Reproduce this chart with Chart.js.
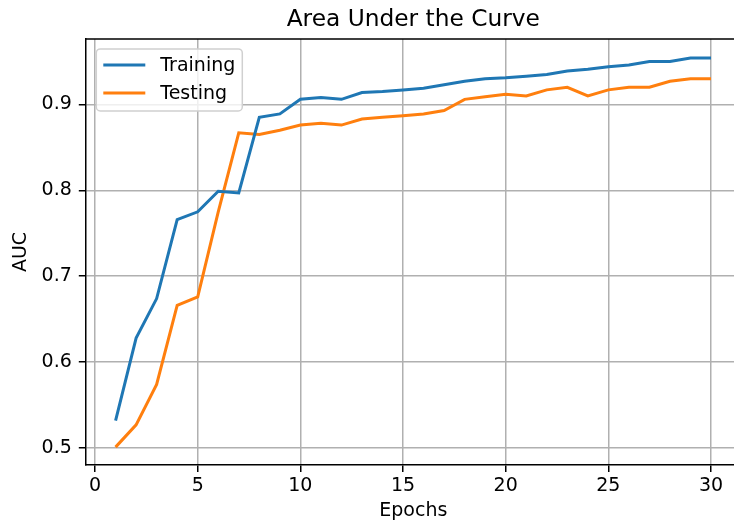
<!DOCTYPE html>
<html><head><meta charset="utf-8">
<script src="https://cdn.jsdelivr.net/npm/chart.js@4.4.1/dist/chart.umd.min.js"></script>
<style>
html,body{margin:0;padding:0;overflow:hidden;background:#fff;width:734px;height:526px}
#wrap{position:relative;width:745px;height:526px}
</style>
</head><body>
<div id="wrap"><canvas id="c" width="745" height="526"></canvas></div>
<script>
const epochs = [1,2,3,4,5,6,7,8,9,10,11,12,13,14,15,16,17,18,19,20,21,22,23,24,25,26,27,28,29,30];
const training = [0.532,0.628,0.674,0.766,0.775,0.799,0.797,0.885,0.889,0.906,0.908,0.906,0.914,0.915,0.917,0.919,0.923,0.927,0.930,0.931,0.933,0.935,0.939,0.941,0.944,0.946,0.950,0.950,0.954,0.954];
const testing  = [0.501,0.527,0.574,0.666,0.676,0.775,0.867,0.865,0.870,0.876,0.878,0.876,0.883,0.885,0.887,0.889,0.893,0.906,0.909,0.912,0.910,0.917,0.920,0.910,0.917,0.920,0.920,0.927,0.930,0.930];
const xTicks = [0,5,10,15,20,25,30];
const yTicks = [0.5,0.6,0.7,0.8,0.9];
const seriesLabels = ['Training','Testing'];
const seriesColors = ['#1f77b4','#ff7f0e'];

const FONT = "'DejaVu Sans', sans-serif";
const TICK_PX = 19;

const spinesPlugin = {
  id: 'spines',
  afterDraw(chart) {
    const {ctx, chartArea: a} = chart;
    ctx.save();
    ctx.strokeStyle = '#000';
    ctx.lineWidth = 1.5;
    ctx.beginPath();
    ctx.moveTo(a.left, a.top); ctx.lineTo(a.right, a.top);
    ctx.moveTo(a.right, a.top); ctx.lineTo(a.right, a.bottom);
    ctx.stroke();
    ctx.restore();
  }
};

const legendPlugin = {
  id: 'mplLegend',
  afterDraw(chart) {
    const {ctx, chartArea: a} = chart;
    const x0 = a.left + 10.5, y0 = a.top + 10, w = 146, h = 62, r = 4;
    ctx.save();
    ctx.beginPath();
    ctx.moveTo(x0 + r, y0);
    ctx.arcTo(x0 + w, y0, x0 + w, y0 + h, r);
    ctx.arcTo(x0 + w, y0 + h, x0, y0 + h, r);
    ctx.arcTo(x0, y0 + h, x0, y0, r);
    ctx.arcTo(x0, y0, x0 + w, y0, r);
    ctx.closePath();
    ctx.fillStyle = 'rgba(255,255,255,0.8)';
    ctx.fill();
    ctx.strokeStyle = '#d0d0d0';
    ctx.lineWidth = 1.5;
    ctx.stroke();
    chart.data.datasets.forEach((ds, i) => {
      const y = y0 + 16 + i * 28;
      ctx.beginPath();
      ctx.strokeStyle = ds.borderColor;
      ctx.lineWidth = 3;
      ctx.moveTo(x0 + 7, y); ctx.lineTo(x0 + 49, y);
      ctx.stroke();
      ctx.fillStyle = '#000';
      ctx.font = TICK_PX + "px " + FONT;
      ctx.textBaseline = 'middle';
      ctx.textAlign = 'left';
      ctx.fillText(ds.label, x0 + 64, y + 1);
    });
    ctx.restore();
  }
};

const mkData = (vals) => epochs.map((e, i) => ({x: e, y: vals[i]}));

new Chart(document.getElementById('c'), {
  type: 'line',
  data: {
    datasets: [
      {label: seriesLabels[0], data: mkData(training), borderColor: seriesColors[0], backgroundColor: seriesColors[0], borderWidth: 3, pointRadius: 0, tension: 0, fill: false},
      {label: seriesLabels[1], data: mkData(testing), borderColor: seriesColors[1], backgroundColor: seriesColors[1], borderWidth: 3, pointRadius: 0, tension: 0, fill: false}
    ]
  },
  options: {
    responsive: false,
    animation: false,
    devicePixelRatio: 1,
    layout: {padding: {left: 10, right: 4.2, top: 0, bottom: 0}},
    plugins: {
      legend: {display: false},
      tooltip: {enabled: false},
      title: {
        display: true,
        fullSize: false,
        text: 'Area Under the Curve',
        color: '#000',
        font: {family: FONT, size: 23.3, weight: 'normal', lineHeight: 1.2},
        padding: {top: 6, bottom: 5}
      }
    },
    scales: {
      x: {
        type: 'linear',
        min: -0.45, max: 31.45,
        afterBuildTicks: s => { s.ticks = xTicks.map(v => ({value: v})); },
        afterFit: s => { s.height = 61; },
        ticks: {color: '#000', font: {family: FONT, size: TICK_PX}, padding: 3, maxRotation: 0, autoSkip: false, callback: v => String(v)},
        grid: {color: '#b0b0b0', lineWidth: 1.5, tickLength: 7, tickColor: '#000', tickWidth: 1.5},
        border: {color: '#000', width: 1.5},
        title: {display: true, text: 'Epochs', color: '#000', font: {family: FONT, size: TICK_PX, lineHeight: 1.2}, padding: {top: 0, bottom: 4}}
      },
      y: {
        type: 'linear',
        min: 0.4802, max: 0.9763,
        afterBuildTicks: s => { s.ticks = yTicks.map(v => ({value: v})); },
        afterFit: s => { s.width = 75.8; },
        ticks: {color: '#000', font: {family: FONT, size: TICK_PX}, padding: 7, autoSkip: false, callback: v => Number(v).toFixed(1)},
        grid: {color: '#b0b0b0', lineWidth: 1.5, tickLength: 7, tickColor: '#000', tickWidth: 1.5},
        border: {color: '#000', width: 1.5},
        title: {display: true, text: 'AUC', color: '#000', font: {family: FONT, size: TICK_PX, lineHeight: 1.2}, padding: {top: 0, bottom: 0}}
      }
    }
  },
  plugins: [spinesPlugin, legendPlugin]
});
</script>
</body></html>
